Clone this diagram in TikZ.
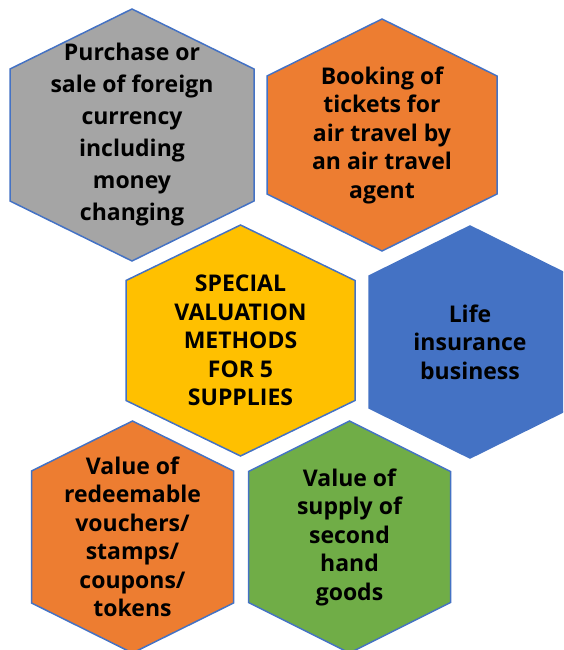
\documentclass[tikz,border=0pt]{standalone}
\usepackage{fontspec}
\setmainfont{Open Sans}
\usepackage{xcolor}
\usetikzlibrary{arrows.meta}

\definecolor{hexline}{HTML}{4472C4}
\definecolor{hexgray}{HTML}{A5A5A5}
\definecolor{hexorange}{HTML}{ED7D31}
\definecolor{hexyellow}{HTML}{FFC000}
\definecolor{hexblue}{HTML}{4472C4}
\definecolor{hexgreen}{HTML}{70AD47}

\tikzset{
  cell/.style={draw=hexline,line width=1.5pt,line join=miter},
  celltext/.style={align=center,inner sep=0pt,font=\bfseries\fontsize{23}{28.5}\selectfont}
}

\begin{document}
\begin{tikzpicture}[x=1pt,y=-1pt]
        \useasboundingbox (0,0) rectangle (563,650);
        \clip (0,0) rectangle (563,650);

        \coordinate (currency) at (132,135);
        \coordinate (tickets)  at (382,135);
        \coordinate (special)  at (240.5,340.5);
        \coordinate (life)     at (470,342);
        \coordinate (vouchers) at (132.5,537);
        \coordinate (goods)    at (349.5,537);

        \draw[cell,fill=hexgray,shift={(currency)}]  (0,-126) -- (122,-66) -- (122,66) -- (0,126) -- (-122,66) -- (-122,-66) -- cycle;
        \draw[cell,fill=hexorange,shift={(tickets)}] (0,-116) -- (115,-59) -- (115,59) -- (0,116) -- (-115,59) -- (-115,-59) -- cycle;
        \draw[cell,fill=hexyellow,shift={(special)}] (0,-115.5) -- (114.5,-60) -- (114.5,60) -- (0,115.5) -- (-114.5,60) -- (-114.5,-60) -- cycle;
        \draw[cell,fill=hexblue,shift={(life)}]      (0,-116) -- (101,-66) -- (101,66) -- (0,116) -- (-101,66) -- (-101,-66) -- cycle;
        \draw[cell,fill=hexorange,shift={(vouchers)}] (0,-116) -- (101,-66) -- (101,66) -- (0,116) -- (-101,66) -- (-101,-66) -- cycle;
        \draw[cell,fill=hexgreen,shift={(goods)}]    (0,-116) -- (101,-65.5) -- (101,65.5) -- (0,116) -- (-101,65.5) -- (-101,-65.5) -- cycle;

        \node[celltext,font=\bfseries\fontsize{23}{32}\selectfont] (currencytext) at (currency)
              {Purchase or\\sale of foreign\\currency\\including\\money\\changing};
        \node[celltext] (ticketstext)  at (tickets)  {Booking of\\tickets for\\air travel by\\an air travel\\agent};
        \node[celltext] (specialtext)  at (special)  {SPECIAL\\VALUATION\\METHODS\\FOR 5\\SUPPLIES};
        \node[celltext] (lifetext)     at (life)     {Life\\insurance\\business};
        \node[celltext] (voucherstext) at (vouchers) {Value of\\redeemable\\vouchers/\\stamps/\\coupons/\\tokens};
        \node[celltext] (goodstext)    at (goods)    {Value of\\supply of\\second\\hand\\goods};
\end{tikzpicture}
\end{document}
